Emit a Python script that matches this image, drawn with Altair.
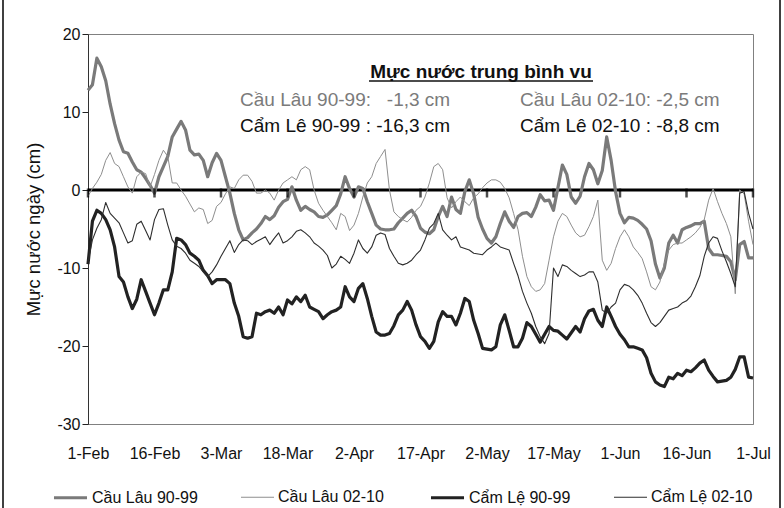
import altair as alt
import pandas as pd

FONT = "Liberation Sans"
NBSP = "\u00a0"

# Axis tick labels: one every 15 days starting 1 February
tick_days = [0, 15, 30, 45, 60, 75, 90, 105, 120, 135, 150]
tick_labels = ["1-Feb", "16-Feb", "3-Mar", "18-Mar", "2-Apr", "17-Apr",
               "2-May", "17-May", "1-Jun", "16-Jun", "1-Jul"]
y_ticks = [20, 10, 0, -10, -20, -30]

series_names = ["Cầu Lâu 90-99", "Cầu Lâu 02-10", "Cẩm Lệ 90-99", "Cẩm Lệ 02-10"]

# Daily mean water level (cm), day 0 = 1 Feb ... day 150 = 1 Jul
cau_lau_90_99 = [
    12.8, 13.5, 16.9, 15.8, 14.0, 11.0, 8.5, 6.4, 4.9, 4.7,
    3.6, 2.6, 2.3, 1.5, 0.6, -0.4, 1.7, 3.0, 4.3, 6.8,
    7.8, 8.8, 7.7, 5.1, 4.5, 4.6, 3.8, 1.7, 3.5, 4.7,
    3.8, 1.7, -0.4, -3.0, -5.1, -6.4, -6.1, -5.5, -5.0, -4.3,
    -3.4, -3.8, -3.3, -2.2, -1.5, -1.2, 0.4, -1.3, -2.6, -2.1,
    -2.5, -2.8, -3.4, -3.5, -3.2, -2.6, -2.0, -0.5, 1.7, 0.2,
    -0.9, 0.4, 0.2, -1.5, -3.0, -4.5, -5.0, -5.1, -5.1, -5.0,
    -4.2, -3.6, -3.0, -2.6, -3.4, -4.9, -5.4, -5.6, -5.1, -3.4,
    -2.1, -3.4, -0.9, -2.5, -3.0, -0.2, 1.3, -0.5, -3.5, -5.0,
    -6.2, -6.8, -6.0, -4.3, -2.8, -4.0, -4.8, -3.4, -3.0, -2.9,
    -3.4, -2.2, -0.6, -1.4, -1.3, -2.6, 0.3, 3.2, 2.0, -0.9,
    -1.7, -0.8, 1.7, 3.4, 2.6, 0.8, 2.5, 6.8, 3.8, -0.2,
    -3.0, -4.2, -3.5, -3.6, -3.9, -4.4, -5.0, -6.5, -9.5, -11.3,
    -10.0, -6.8, -5.8, -6.8, -5.1, -4.8, -4.6, -4.3, -4.3, -4.0,
    -7.5, -8.3, -8.3, -8.4, -8.5, -9.2, -11.5, -7.0, -6.6, -8.7,
    -8.7,
]

cau_lau_02_10 = [
    -0.8, 0.2, 1.0, 2.0, 3.8, 4.8, 3.4, 3.0, 1.7, 0.4,
    -0.4, 1.7, 2.3, 2.1, 0.4, 2.0, 3.8, 5.1, 4.3, 0.9,
    0.9, 0.0, -0.8, -1.8, -2.8, -2.3, -2.5, -4.3, -3.9, -2.1,
    -1.6, -0.5, 0.4, 0.2, 1.3, 1.9, 1.9, 1.1, -0.4, -0.4,
    0.0, -0.4, -1.3, 0.0, 0.9, 1.3, 1.7, 1.3, 2.6, 3.0,
    2.6, 0.0, -1.7, -2.6, -3.4, -4.2, -5.1, -3.0, -3.4, -5.2,
    -4.5, -3.0, -0.9, 0.9, 1.7, 3.4, 4.3, 5.2, 0.0, -2.8,
    -3.4, -3.8, -4.1, -3.5, -2.6, -2.1, -0.9, 0.9, 3.0, 3.4,
    2.6, -1.0, -2.3, -1.5, -0.9, -1.5, -2.0, -1.0, -0.5, 0.3,
    0.9, 1.3, 1.3, 1.0, 0.2, -1.0, -3.0, -5.1, -8.5, -11.1,
    -12.4, -13.0, -12.8, -12.0, -9.0, -6.0, -4.0, -3.0, -3.4, -4.5,
    -5.5, -6.0, -5.8, -4.7, -3.4, -1.3, -9.0, -10.3, -9.4, -7.5,
    -6.0, -5.1, -6.0, -7.3, -8.0, -8.8, -10.5, -12.4, -12.8, -11.8,
    -9.4, -7.7, -7.0, -6.8, -6.8, -6.4, -6.0, -5.5, -4.8, -3.8,
    -1.3, 0.2, -1.5, -3.0, -4.3, -6.0, -13.3, 0.0, -0.5, -4.0,
    -7.0,
]

cam_le_90_99 = [
    -9.5, -4.0, -2.6, -3.0, -3.8, -5.1, -7.3, -11.1, -11.8, -13.7,
    -15.2, -14.0, -11.5, -13.0, -14.5, -16.0, -14.5, -12.8, -12.8, -10.5,
    -6.2, -6.4, -7.0, -8.1, -8.5, -9.0, -10.3, -11.0, -12.0, -11.5,
    -11.5, -11.5, -12.0, -14.5, -16.2, -18.8, -19.0, -18.8, -15.8, -16.0,
    -15.6, -15.4, -15.8, -15.0, -16.0, -14.1, -14.6, -13.7, -14.3, -13.5,
    -15.0, -15.3, -15.6, -16.5, -16.0, -15.6, -15.4, -15.0, -12.4, -13.7,
    -14.3, -12.6, -12.0, -13.9, -16.2, -18.2, -18.6, -18.6, -18.4, -17.4,
    -16.0, -15.4, -14.3, -15.4, -17.3, -18.8, -19.4, -20.3, -19.4, -16.9,
    -15.6, -16.2, -16.2, -17.3, -15.8, -13.9, -14.3, -16.7, -18.4, -20.3,
    -20.4, -20.5, -20.1, -17.3, -16.0, -18.0, -20.1, -20.1, -19.0, -17.0,
    -17.5, -18.5, -19.5, -18.5, -17.5, -18.0, -18.1, -18.6, -19.1, -18.3,
    -17.5, -18.2, -16.5, -15.5, -15.3, -16.7, -17.5, -15.0, -16.2, -17.5,
    -18.5, -19.2, -20.1, -20.1, -20.3, -20.5, -21.5, -23.5, -24.6, -25.0,
    -25.2, -24.0, -24.2, -23.5, -23.8, -23.1, -23.3, -22.8, -22.2, -21.8,
    -23.1, -23.9, -24.6, -24.5, -24.4, -24.0, -23.0, -21.4, -21.4, -24.0,
    -24.1,
]

cam_le_02_10 = [
    -9.2, -6.4, -4.9, -3.8, -1.6, -3.0, -3.6, -4.2, -5.5, -6.8,
    -6.5, -4.4, -4.0, -5.2, -6.4, -3.8, -2.5, -2.4, -4.5, -6.4,
    -7.2, -7.5, -8.1, -9.0, -9.4, -9.8, -10.5, -11.1, -10.5, -9.6,
    -8.5, -7.5, -6.5, -8.0, -7.0, -6.4, -6.5, -7.0, -6.6, -6.3,
    -6.0, -7.0, -6.2, -5.5, -6.8, -6.5, -6.0, -5.3, -5.1, -5.5,
    -6.0, -6.8, -7.2, -7.7, -8.4, -10.0, -9.5, -8.5, -8.9, -9.4,
    -8.1, -6.4, -7.5, -8.1, -7.3, -5.8, -5.5, -5.7, -7.5, -8.5,
    -9.4, -9.6, -9.4, -9.0, -8.3, -7.7, -6.4, -4.9, -4.3, -3.0,
    -5.1, -5.8, -6.4, -6.0, -7.3, -7.5, -7.7, -8.1, -8.2, -8.3,
    -7.7, -7.3, -6.8, -7.3, -7.5, -7.7, -9.4, -11.0, -13.0, -14.5,
    -15.8, -17.5, -18.8, -19.7, -18.4, -10.0, -11.1, -9.6, -9.8, -10.3,
    -10.7, -11.1, -10.9, -10.5, -10.5, -11.8, -15.4, -15.8, -15.0, -14.5,
    -12.8, -12.1, -12.3, -12.8, -13.5, -14.5, -15.8, -17.0, -17.5, -17.0,
    -16.2, -15.4, -15.2, -15.0, -14.5, -14.2, -13.6, -12.4, -11.0, -8.5,
    -6.8, -6.0, -6.2, -7.8, -9.2, -10.7, -12.4, -0.4, -0.2, -3.0,
    -5.0,
]

# Mean levels printed in the header block
header_title = "Mực nước trung bình vu"
header_left = ["Cầu Lâu 90-99:" + NBSP * 3 + "-1,3 cm", "Cẩm Lê 90-99 : -16,3 cm"]
header_right = ["Cầu Lâu 02-10: -2,5 cm", "Cẩm Lê 02-10 : -8,8 cm"]
header_colors = ["#7b7b7b", "#111111"]

line_colors = ["#7a7a7a", "#8e8e8e", "#222222", "#2e2e2e"]
line_widths = [3.2, 1.0, 3.2, 1.1]

records = []
for name, values in zip(series_names,
                        [cau_lau_90_99, cau_lau_02_10, cam_le_90_99, cam_le_02_10]):
    for day, level in enumerate(values):
        records.append({"day": day, "level": level, "series": name})
levels = pd.DataFrame(records)

one_row = pd.DataFrame({"k": [0]})

x_label_expr = "[" + ",".join(f"'{t}'" for t in tick_labels) + "][round(datum.value / 15)]"

legend_spec = alt.Legend(
    orient="none", legendX=-36, legendY=445, direction="horizontal",
    title=None, symbolType="stroke", symbolSize=1090, columnPadding=40,
    labelFontSize=16, labelFont=FONT, labelColor="#111111", labelOffset=3,
)

lines = alt.Chart(levels).mark_line(strokeJoin="round").encode(
    x=alt.X("day:Q",
            scale=alt.Scale(domain=[0, 150], nice=False, zero=False),
            axis=alt.Axis(values=tick_days, labelExpr=x_label_expr, title=None,
                          ticks=False, tickSize=0, grid=False, labelAngle=0,
                          labelOverlap=False, labelFlush=False,
                          labelPadding=21, labelFontSize=16, labelColor="#111111",
                          domainColor="#808080", domainWidth=1)),
    y=alt.Y("level:Q",
            scale=alt.Scale(domain=[-30, 20], nice=False, zero=False),
            axis=alt.Axis(values=y_ticks, labelExpr="'' + datum.value",
                          title="Mực nước ngày (cm)", grid=False,
                          tickSize=6, tickColor="#222222", domainColor="#333333",
                          labelPadding=2, labelFontSize=16, labelColor="#111111",
                          labelOverlap=False,
                          titleFontSize=18.5, titleFontWeight="normal",
                          titleColor="#111111",
                          titleX=-55, titleY=195, titleAlign="center",
                          titleBaseline="middle")),
    color=alt.Color("series:N", sort=series_names,
                    scale=alt.Scale(domain=series_names, range=line_colors),
                    legend=legend_spec),
    strokeWidth=alt.StrokeWidth("series:N", sort=series_names,
                                scale=alt.Scale(type="ordinal", domain=series_names,
                                                range=line_widths),
                                legend=legend_spec),
    order=alt.Order("day:Q"),
)

zero_line = alt.Chart(one_row).mark_rule(color="#000000", strokeWidth=3).encode(
    y=alt.datum(0)
)

zero_ticks = alt.Chart(pd.DataFrame({"day": tick_days})).mark_tick(
    color="#000000", thickness=2.5, size=9, yOffset=3, orient="vertical"
).encode(x=alt.X("day:Q", title=None), y=alt.datum(0))


def note(text, x, y, size=19, color="#111111", align="left", weight="normal"):
    return alt.Chart(one_row).mark_text(
        text=text, align=align, baseline="middle", fontSize=size, font=FONT,
        color=color, fontWeight=weight,
    ).encode(x=alt.value(x), y=alt.value(y))


notes = [note(header_title, 393, 38, size=19, weight="bold", align="center")]
underline = alt.Chart(one_row).mark_rule(color="#111111", strokeWidth=1.3).encode(
    x=alt.value(281), x2=alt.value(505), y=alt.value(47)
)
for i in range(2):
    yy = 66 + 26 * i
    notes.append(note(header_left[i], 152, yy, color=header_colors[i]))
    notes.append(note(header_right[i], 432, yy, color=header_colors[i]))

frame_left = alt.Chart(one_row).mark_rule(color="#000000", strokeWidth=1.5).encode(
    x=alt.value(-85), y=alt.value(-34), y2=alt.value(474)
)
frame_right = alt.Chart(one_row).mark_rule(color="#000000", strokeWidth=1.5).encode(
    x=alt.value(692), y=alt.value(-34), y2=alt.value(474)
)

chart = alt.layer(
    zero_line, lines, zero_ticks, underline, *notes, frame_left, frame_right
).properties(
    width=665, height=390,
    padding={"left": 88, "top": 34, "right": 31, "bottom": 84},
    autosize=alt.AutoSizeParams(type="none"),
    background="white",
).configure_view(
    stroke="#808080", strokeWidth=1
).configure_axis(
    labelFont=FONT, titleFont=FONT
)

chart.save("out.html", embed_options={"renderer": "svg", "actions": False})
